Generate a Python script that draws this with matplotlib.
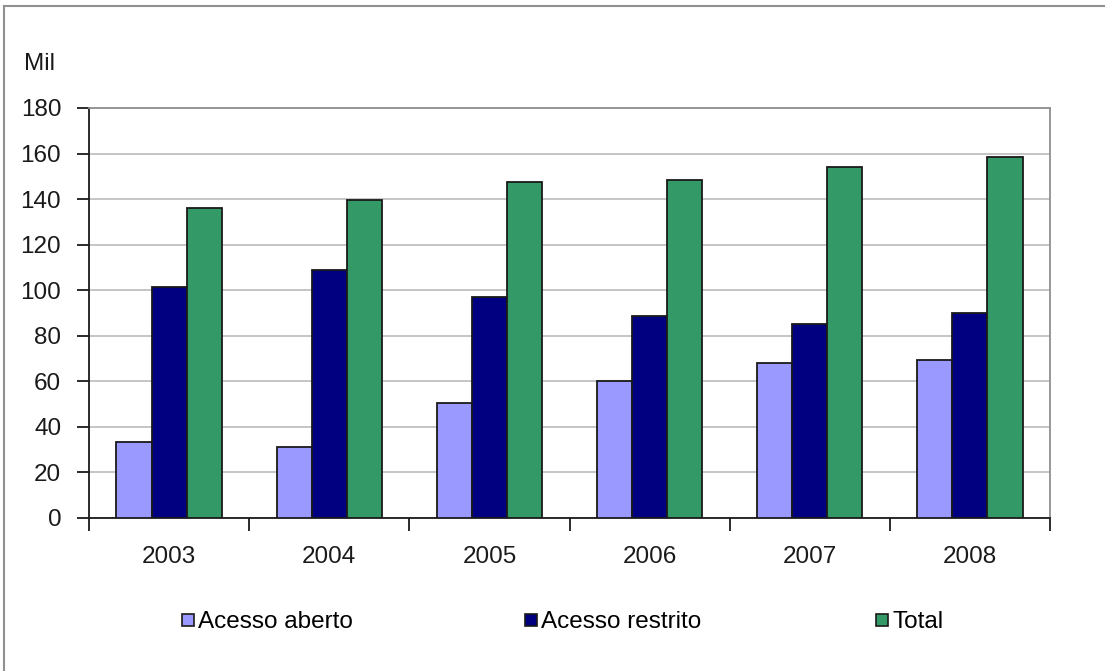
import matplotlib
matplotlib.use("Agg")
import matplotlib.pyplot as plt
import numpy as np
from matplotlib.lines import Line2D

plt.rcParams['font.family'] = ['Liberation Sans', 'DejaVu Sans']

anos = ['2003', '2004', '2005', '2006', '2007', '2008']
acesso_aberto = [33.5, 31, 50.5, 60, 68, 69.5]
acesso_restrito = [101.5, 109, 97, 88.5, 85, 90]
total = [136, 139.5, 147.5, 148.5, 154, 158.5]

series = ['Acesso aberto', 'Acesso restrito', 'Total']
cores = ['#9999FF', '#000080', '#339966']

W, H = 1105, 671
fs = 17.5
fig = plt.figure(figsize=(W / 100, H / 100), dpi=100)
fig.patch.set_facecolor('white')

# plot area in pixels: x 89..1050, y 108..518
ax = fig.add_axes([89 / W, 1 - 518 / H, (1050 - 89) / W, (518 - 108) / H])

x = np.arange(len(anos))
larg = 0.219
for i, (vals, cor) in enumerate(zip([acesso_aberto, acesso_restrito, total], cores)):
    ax.bar(x + (i - 1) * larg, vals, width=larg, color=cor,
           edgecolor='#1a1a1a', linewidth=1.3, zorder=3)

ax.set_xlim(-0.5, len(anos) - 0.5)
ax.set_ylim(0, 180)
ax.set_yticks(np.arange(0, 181, 20))
ax.yaxis.grid(True, color='#c0c0c0', linewidth=1.3, zorder=0)

ax.set_xticks(x)
ax.set_xticklabels(anos)
ax.set_xticks(np.arange(-0.5, len(anos), 1), minor=True)
ax.tick_params(axis='x', which='major', length=0, pad=20, labelsize=fs, colors='#1a1a1a')
ax.tick_params(axis='x', which='minor', length=9, width=1.3, direction='out', color='#1a1a1a')
ax.tick_params(axis='y', length=9, width=1.3, direction='out', pad=11, labelsize=fs,
               colors='#1a1a1a')

for s in ['left', 'bottom']:
    ax.spines[s].set_color('#1a1a1a')
    ax.spines[s].set_linewidth(1.3)
for s in ['top', 'right']:
    ax.spines[s].set_color('#909090')
    ax.spines[s].set_linewidth(1.3)

fig.text(24 / W, 1 - 64 / H, 'Mil', fontsize=fs, va='center', ha='left', color='#1a1a1a')

# outer chart frame (only top and left edges visible)
fig.add_artist(Line2D([4 / W, 1], [1 - 6 / H, 1 - 6 / H], transform=fig.transFigure,
                      color='#909090', linewidth=1.5))
fig.add_artist(Line2D([4 / W, 4 / W], [0, 1 - 6 / H], transform=fig.transFigure,
                      color='#909090', linewidth=1.5))

# legend entries spread along the bottom
pos_leg = [181, 524, 875]
for nome, cor, px in zip(series, cores, pos_leg):
    h = Line2D([], [], marker='s', linestyle='none', markersize=9,
               markerfacecolor=cor, markeredgecolor='#1a1a1a', markeredgewidth=1.2)
    fig.legend([h], [nome], loc='center left', bbox_to_anchor=(px / W, 1 - 622 / H),
               frameon=False, fontsize=fs, handlelength=0.6, handletextpad=0.1,
               borderpad=0, borderaxespad=0)

fig.savefig('out.png', dpi=100, facecolor='white')
